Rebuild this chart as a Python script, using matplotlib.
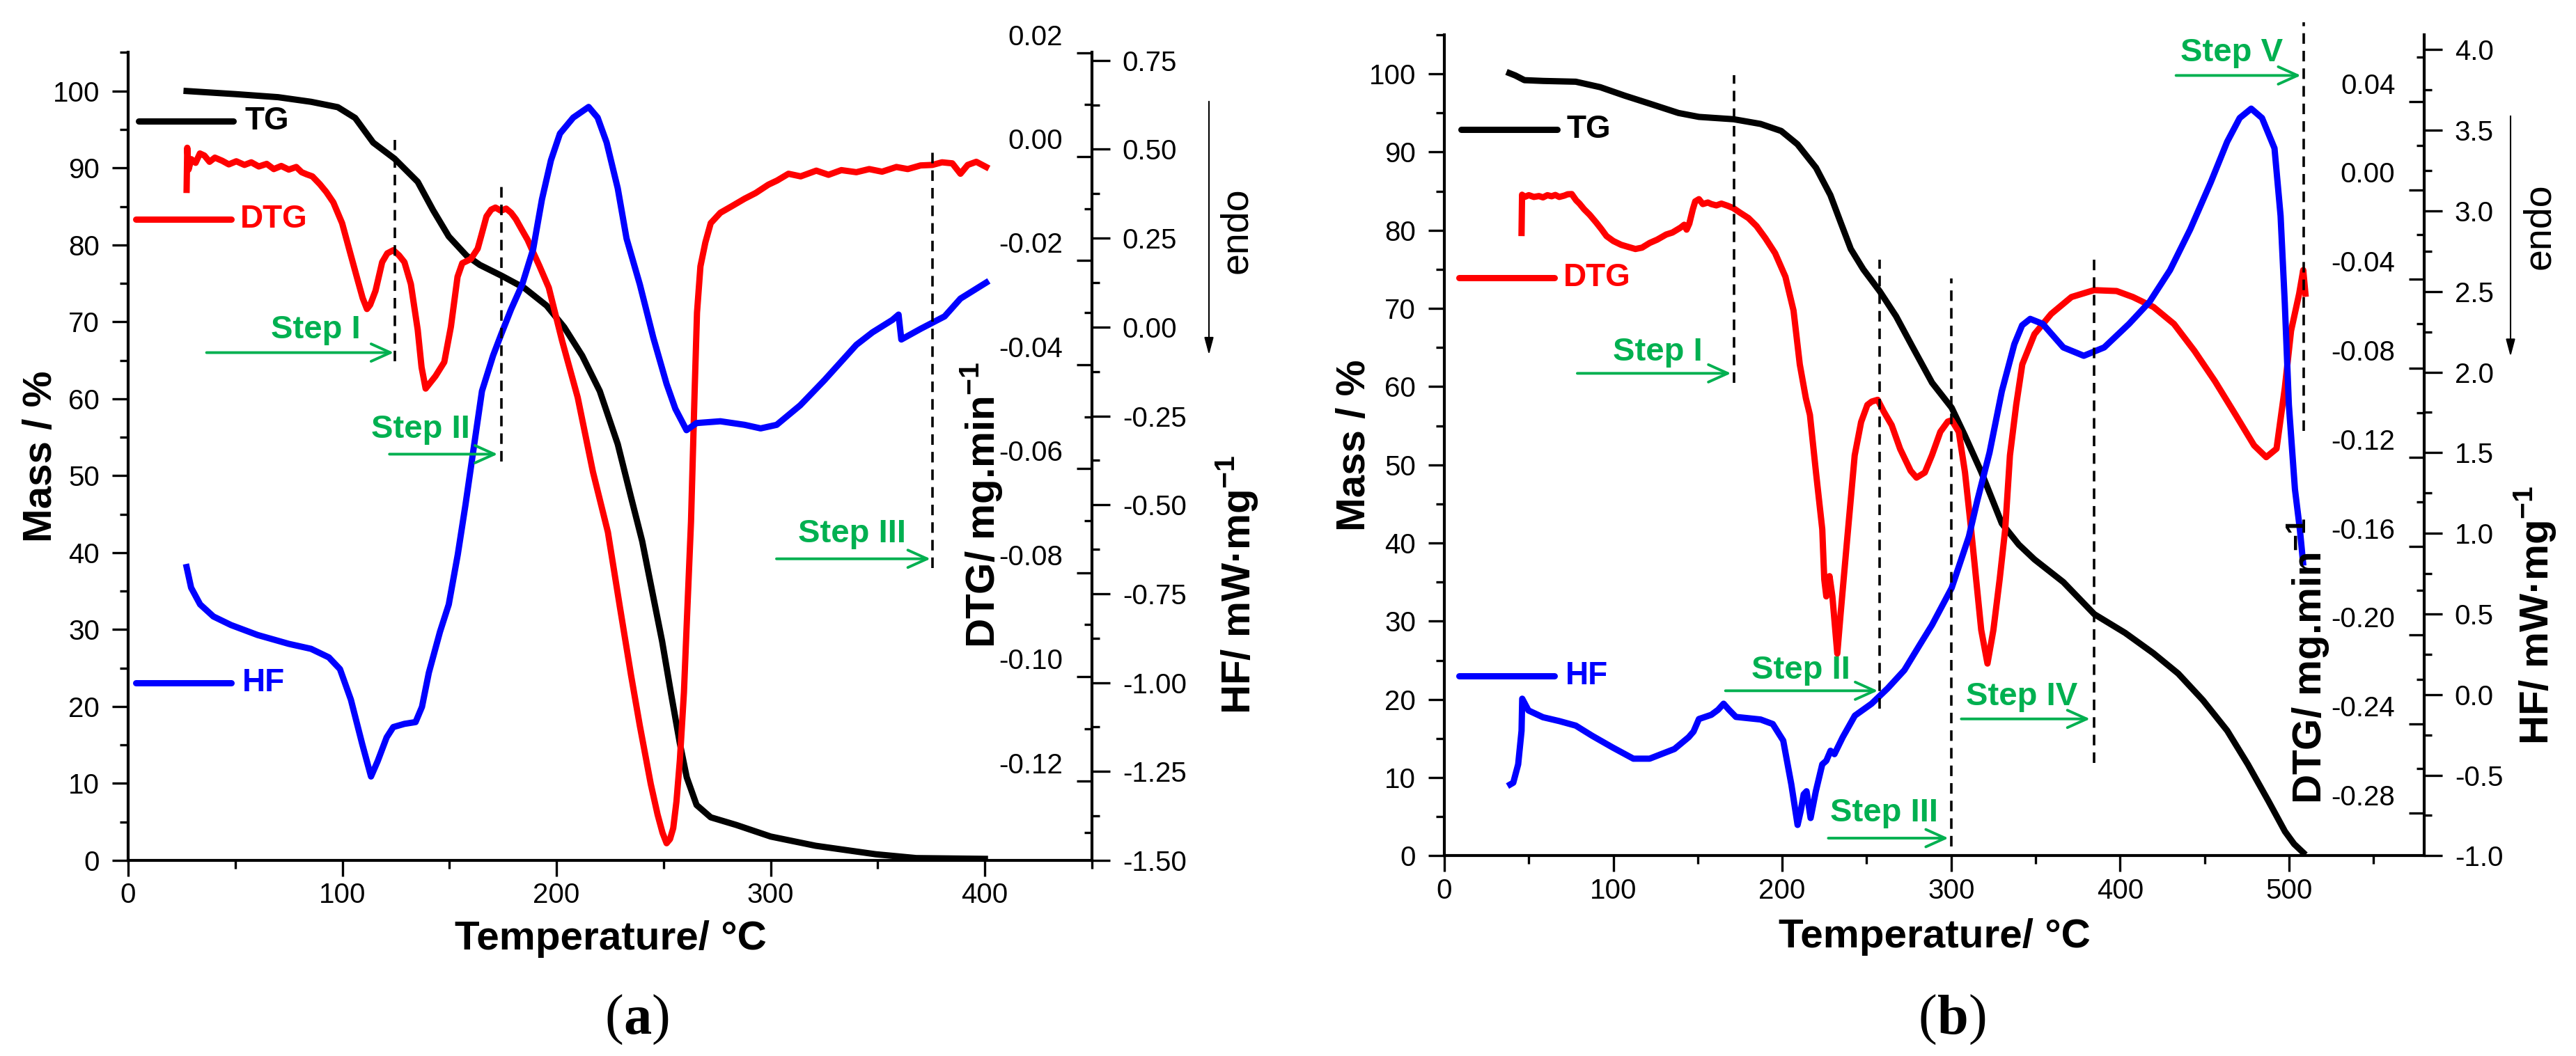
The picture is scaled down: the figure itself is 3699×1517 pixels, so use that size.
import matplotlib
matplotlib.use("Agg")
import matplotlib.pyplot as plt
from matplotlib.ticker import MultipleLocator, FormatStrFormatter
from matplotlib.transforms import ScaledTranslation
from matplotlib.patches import FancyArrowPatch

plt.rcParams['font.family'] = ['Liberation Sans', 'DejaVu Sans']
plt.rcParams['mathtext.fontset'] = 'custom'
plt.rcParams['mathtext.rm'] = 'Liberation Sans'
plt.rcParams['mathtext.bf'] = 'Liberation Sans:bold'
plt.rcParams['axes.unicode_minus'] = False

# ---------------- panel (a) data ----------------
a_tg_t = [27.3, 50, 70, 85.4, 97.9, 106, 114.4, 124.4, 135.2, 142.4, 149.7, 158, 164.2, 174.3,
          185, 195.4, 203.6, 212, 220.2, 228.6, 234.8, 240, 243, 249.3, 253.4, 257.6, 260.8,
          265.4, 272, 284, 300, 321, 349, 368, 400]
a_tg_m = [100.0, 99.6, 99.2, 98.6, 97.9, 96.5, 93.3, 91.2, 88.2, 84.5, 81.1, 78.6, 77.4, 76.0,
          74.4, 72.1, 69.3, 65.6, 61.0, 54.1, 47.2, 41.5, 37.3, 28.5, 21.8, 15.2, 10.8,
          7.2, 5.6, 4.6, 3.1, 1.9, 0.8, 0.3, 0.2]

a_dtg_t = [27.3, 27.6, 28.2, 29.5, 31.5, 33.5, 35.6, 38, 40.5, 43.9, 47, 50.5, 54.3, 57.5, 61,
           64.7, 68, 71.5, 75, 78.5, 81, 83.3, 86, 89.5, 92.5, 95.8, 99.9, 104, 107.2, 109.5,
           111.5, 113, 115.5, 118.6, 121, 123.8, 126.5, 129, 132, 135.2, 137, 138.9, 141, 143.5,
           147.6, 150.7, 153.8, 156, 160, 163.2, 165, 167.3, 169.5, 171.5, 174, 176.5, 178.8,
           181, 184, 186.5, 189, 192, 196.4, 202.6, 209.9, 217, 224, 229.6, 234.8, 238.9, 244,
           247.2, 249.5, 251.4, 253, 254.5, 256, 257.6, 259.5, 260.8, 262.8, 264.5, 265.6,
           267.2, 269.5, 272, 276.5, 282, 287.8, 293, 298.9, 303, 308.3, 314, 321.3, 327, 333,
           340, 346, 352, 358.7, 364, 370, 375.5, 380, 384.8, 388.6, 392, 396, 400.6]
a_dtg_v = [-0.0064, 0.0017, -0.0025, -0.0005, -0.0012, 0.0006, 0.0002, -0.0010, -0.0002, -0.0008,
           -0.0015, -0.0009, -0.0016, -0.0011, -0.0019, -0.0014, -0.0024, -0.0018, -0.0025,
           -0.0020, -0.0030, -0.0034, -0.0038, -0.0053, -0.0068, -0.0088, -0.0128, -0.0190,
           -0.0238, -0.0272, -0.0293, -0.0285, -0.0258, -0.0203, -0.0186, -0.0180, -0.0190,
           -0.0203, -0.0245, -0.0333, -0.0405, -0.0446, -0.0435, -0.0422, -0.0395, -0.0327,
           -0.0231, -0.0205, -0.0197, -0.0177, -0.0150, -0.0115, -0.0102, -0.0098, -0.0104,
           -0.0100, -0.0108, -0.0120, -0.0142, -0.0160, -0.0183, -0.0210, -0.0252, -0.0354,
           -0.0463, -0.0606, -0.0722, -0.0866, -0.0997, -0.1094, -0.1206, -0.1265, -0.1300,
           -0.1320, -0.1312, -0.1291, -0.1240, -0.1160, -0.1030, -0.0899, -0.0702, -0.0450,
           -0.0300, -0.0211, -0.0165, -0.0128, -0.0108, -0.0095, -0.0081, -0.0070, -0.0054,
           -0.0046, -0.0033, -0.0038, -0.0027, -0.0035, -0.0026, -0.0030, -0.0024, -0.0029,
           -0.0020, -0.0024, -0.0017, -0.0016, -0.0011, -0.0013, -0.0033, -0.0016, -0.0010,
           -0.0020]

a_hf_t = [27.3, 29.4, 33.6, 39.8, 48, 60.4, 75, 85.4, 93.7, 98.9, 104, 109.3, 113.4, 116.5, 120.7,
          123.8, 129, 134.2, 137.2, 140.4, 145.6, 149.7, 153.9, 157.5, 161.1, 165.2, 170.4,
          174.2, 178.8, 184, 189.1, 193.2, 197.4, 201.6, 207.8, 215, 219.2, 223.4, 228.6, 232.7,
          238.9, 245.2, 251.4, 255.5, 260.7, 265.4, 276.5, 287.8, 295.3, 302.8, 313.8, 325,
          332.5, 340, 347.5, 356.8, 359.7, 361, 370, 381.2, 388.6, 400.6]
a_hf_v = [-0.675, -0.733, -0.780, -0.814, -0.838, -0.866, -0.891, -0.905, -0.929, -0.962, -1.048,
          -1.173, -1.264, -1.221, -1.154, -1.125, -1.116, -1.111, -1.068, -0.972, -0.857, -0.780,
          -0.640, -0.500, -0.350, -0.180, -0.080, -0.020, 0.050, 0.120, 0.219, 0.359, 0.469,
          0.544, 0.589, 0.619, 0.589, 0.519, 0.390, 0.249, 0.120, -0.030, -0.160, -0.230, -0.290,
          -0.270, -0.265, -0.275, -0.285, -0.275, -0.220, -0.150, -0.100, -0.050, -0.015, 0.020,
          0.035, -0.035, -0.005, 0.030, 0.080, 0.125]

a_steps = ['Step I', 'Step II', 'Step III']
a_step_temp = [124.4, 174.3, 375.5]

# ---------------- panel (b) data ----------------
b_tg_t = [38.5, 42, 47.4, 58.4, 77.8, 92.3, 107, 121.5, 138.6, 150.7, 171.3, 187.2, 199.4, 209,
          220, 228.5, 234.6, 240.6, 248, 257.7, 267.4, 277.1, 288.7, 300.3, 308, 317.8, 330, 340,
          349.3, 366.4, 384.7, 403, 419.7, 434.4, 449, 463.4, 475.6, 487.8, 497.6, 503, 508.4]
b_tg_m = [100.1, 99.8, 99.2, 99.1, 99.0, 98.3, 97.2, 96.2, 95.0, 94.5, 94.2, 93.6, 92.7, 91.0,
          88.0, 84.5, 81.0, 77.6, 75.0, 72.2, 69.0, 65.1, 60.5, 57.3, 53.8, 49.1, 42.5, 39.8,
          37.9, 35.0, 30.9, 28.5, 25.9, 23.3, 19.9, 16.0, 11.7, 7.0, 3.1, 1.5, 0.4]

b_dtg_t = [45.7, 46.0, 47.5, 50, 53, 56, 58.4, 61, 63.5, 65.7, 68, 71, 73, 75.4, 78, 80, 82.7, 86,
           90, 93, 96, 100, 104.6, 109, 113.1, 117, 121.5, 126, 131.3, 135, 139.8, 142, 143.4,
           145, 147.1, 148.5, 150.7, 153, 156, 158, 161, 164, 167.8, 171, 175.1, 180, 184.8, 190,
           195.8, 201.9, 206.7, 210.4, 214, 216.4, 220, 223.7, 224.9, 226.1, 228, 229.7, 232.6,
           234.6, 238.1, 242.9, 246.7, 250.4, 253, 256.5, 260.1, 264.8, 269.8, 276, 279.5, 284.4,
           288.7, 293.6, 298, 300.3, 304.5, 308.2, 311.8, 317.8, 321.5, 325, 328.7, 332, 334.8,
           338.5, 342.1, 349.3, 359.2, 371.2, 384.6, 397.9, 407.6, 419.8, 431.9, 444, 456.2,
           468.4, 479.3, 486.5, 492.6, 497.5, 501.2, 506, 508.4, 509.7]
b_dtg_v = [-0.0192, -0.0020, -0.0030, -0.0022, -0.0030, -0.0026, -0.0032, -0.0022, -0.0027,
           -0.0021, -0.0030, -0.0024, -0.0018, -0.0017, -0.0045, -0.0060, -0.0085, -0.0110,
           -0.0146, -0.0175, -0.0206, -0.0228, -0.0245, -0.0255, -0.0264, -0.0258, -0.0237,
           -0.0222, -0.0199, -0.0190, -0.0168, -0.0155, -0.0177, -0.0150, -0.0085, -0.0050,
           -0.0040, -0.0062, -0.0055, -0.0062, -0.0068, -0.0060, -0.0070, -0.0080, -0.0101,
           -0.0125, -0.0161, -0.0215, -0.0283, -0.0389, -0.0541, -0.0783, -0.0935, -0.1010,
           -0.1269, -0.1524, -0.1750, -0.1826, -0.1735, -0.1826, -0.2083, -0.1901, -0.1599,
           -0.1192, -0.1042, -0.0965, -0.0950, -0.0942, -0.0995, -0.1056, -0.1163, -0.1261,
           -0.1292, -0.1269, -0.1190, -0.1086, -0.1040, -0.1034, -0.1086, -0.1269, -0.1524,
           -0.1977, -0.2128, -0.1977, -0.1750, -0.1524, -0.1192, -0.0965, -0.0783, -0.0647,
           -0.0556, -0.0480, -0.0449, -0.0453, -0.0480, -0.0525, -0.0601, -0.0722, -0.0859,
           -0.1010, -0.1147, -0.1200, -0.1162, -0.0889, -0.0632, -0.0465, -0.0359, -0.0465]

b_hf_t = [39, 40.8, 43.7, 45.7, 46.1, 49.8, 58.4, 68.1, 77.8, 87.5, 99.7, 111.9, 121.5, 136.2,
          144.6, 147.5, 150.7, 158, 162, 165.3, 168.5, 172.6, 187.2, 194.4, 200.6, 205.4, 209.1,
          211, 212.7, 214.4, 216.8, 219.9, 223.7, 226.1, 228.6, 230.9, 235.8, 243, 252.9, 262.4,
          272.3, 282, 288.7, 300.3, 310.5, 315.4, 322.7, 330, 337.4, 342, 346.8, 354.2, 366.4,
          378.5, 390.6, 405.3, 417.4, 429.6, 441.5, 453.7, 463.4, 470.8, 477.6, 484, 491.4, 495,
          497.5, 499.9, 503.5, 506.4, 508.3]
b_hf_v = [-0.558, -0.547, -0.433, -0.225, -0.026, -0.099, -0.141, -0.165, -0.193, -0.256, -0.329,
          -0.398, -0.398, -0.338, -0.265, -0.230, -0.152, -0.126, -0.095, -0.057, -0.095, -0.139,
          -0.155, -0.183, -0.286, -0.558, -0.809, -0.720, -0.619, -0.600, -0.766, -0.600, -0.433,
          -0.411, -0.349, -0.370, -0.265, -0.131, -0.057, 0.038, 0.151, 0.318, 0.432, 0.661,
          0.980, 1.200, 1.500, 1.881, 2.173, 2.290, 2.330, 2.299, 2.153, 2.101, 2.153, 2.299,
          2.435, 2.633, 2.885, 3.178, 3.429, 3.576, 3.634, 3.576, 3.388, 2.969, 2.425, 1.797,
          1.273, 1.026, 0.819]

b_steps = ['Step I', 'Step II', 'Step III', 'Step IV', 'Step V']
b_step_temp = [171.3, 257.8, 300.3, 384.7, 508.8]

# tick labels of the twin axes
a_dtg_ticks = [0.02, 0.00, -0.02, -0.04, -0.06, -0.08, -0.10, -0.12]
a_hf_ticks = [0.75, 0.50, 0.25, 0.00, -0.25, -0.50, -0.75, -1.00, -1.25, -1.50]
b_dtg_ticks = [0.04, 0.00, -0.04, -0.08, -0.12, -0.16, -0.20, -0.24, -0.28]
b_hf_ticks = [4.0, 3.5, 3.0, 2.5, 2.0, 1.5, 1.0, 0.5, 0.0, -0.5, -1.0]

# ---------------- layout (pixels of the 3699 x 1517 canvas) ----------------
W, H, DPI = 3699, 1517, 100
GREEN = '#00B050'
RED = '#FF0000'
BLUE = '#0000FF'
LW = 6.5
TICK_FS = 29

fig = plt.figure(figsize=(W / DPI, H / DPI), dpi=DPI)


def fx(x):
    return x / W


def fy(y):
    return 1 - y / H


def panel(box, xmax, dtg_lim, dtg_ticks, dtg_step, hf_lim, hf_ticks, hf_step, hf_fmt):
    left, top, right, bottom = box
    ax = fig.add_axes([fx(left), fy(bottom), (right - left) / W, (bottom - top) / H])
    ax.set_xlim(0, xmax)
    ax.set_ylim(0, 105)
    ax.spines['top'].set_visible(False)
    for s in ('left', 'bottom', 'right'):
        ax.spines[s].set_linewidth(3)
    ax.xaxis.set_major_locator(MultipleLocator(100))
    ax.xaxis.set_minor_locator(MultipleLocator(50))
    ax.yaxis.set_major_locator(MultipleLocator(10))
    ax.yaxis.set_minor_locator(MultipleLocator(5))
    ax.tick_params(which='major', direction='out', length=16.5, width=2.4, labelsize=TICK_FS)
    ax.tick_params(which='minor', direction='out', length=8.5, width=2.4)
    ax.tick_params(axis='x', which='major', pad=6)
    ax.tick_params(axis='y', which='major', pad=13)
    ax.tick_params(axis='y', which='both', right=False)

    # DTG scale: ticks inward, labels inside the frame
    ax_d = ax.twinx()
    ax_d.set_ylim(*dtg_lim)
    for s in ax_d.spines.values():
        s.set_visible(False)
    ax_d.set_yticks(dtg_ticks)
    ax_d.yaxis.set_minor_locator(MultipleLocator(dtg_step))
    ax_d.yaxis.set_major_formatter(FormatStrFormatter('%.2f'))
    ax_d.tick_params(axis='y', which='major', direction='in', length=16, width=2.4,
                     labelsize=TICK_FS, pad=-30)
    ax_d.tick_params(axis='y', which='minor', direction='in', length=8, width=2.4)

    # HF scale: ticks outward, labels outside
    ax_h = ax.twinx()
    ax_h.set_ylim(*hf_lim)
    for s in ax_h.spines.values():
        s.set_visible(False)
    ax_h.set_yticks(hf_ticks)
    ax_h.yaxis.set_minor_locator(MultipleLocator(hf_step))
    ax_h.yaxis.set_major_formatter(FormatStrFormatter(hf_fmt))
    ax_h.tick_params(axis='y', which='major', direction='out', length=18.5, width=2.4,
                     labelsize=TICK_FS, pad=13)
    ax_h.tick_params(axis='y', which='minor', direction='out', length=8, width=2.4)

    shift = ScaledTranslation(0, 26 / DPI, fig.dpi_scale_trans)
    for t in ax_d.yaxis.get_major_ticks():
        t.label2.set_horizontalalignment('right')
        t.label2.set_transform(t.label2.get_transform() + shift)
    return ax, ax_d, ax_h


def sample(ax_top, ax, x0, x1, y, label, color, tx):
    ax_top.plot([x0, x1], [y, y], color=color, lw=LW, solid_capstyle='round',
                transform=ax.transData)
    ax_top.text(tx, y, label, color=color, fontsize=33, fontweight='bold',
                ha='left', va='center', transform=ax.transData)


def step(ax_top, ax, xline, lo, hi, label, txy, ax0, ax1, ay):
    ax_top.plot([xline, xline], [lo, hi], color='k', lw=2.6, dashes=(4.2, 2.8),
                transform=ax.transData, clip_on=False)
    ax_top.text(txy[0], txy[1], label, color=GREEN, fontsize=34, fontweight='bold',
                ha='center', va='center', transform=ax.transData)
    ax_top.annotate('', xy=(ax1, ay), xytext=(ax0, ay), xycoords=ax.transData,
                    textcoords=ax.transData,
                    arrowprops=dict(arrowstyle='->,head_length=1.0,head_width=0.45',
                                    color=GREEN, lw=2.8, shrinkA=0, shrinkB=0,
                                    mutation_scale=20))


def endo(x, y0, y1, tx, ty):
    fig.add_artist(FancyArrowPatch((fx(x), fy(y0)), (fx(x), fy(y1)),
                                   transform=fig.transFigure,
                                   arrowstyle='-|>,head_length=0.75,head_width=0.2',
                                   mutation_scale=20, color='k', lw=1.5))
    fig.text(fx(tx), fy(ty), 'endo', fontsize=40, rotation=90, ha='center', va='center')


def tag(cx, baseline, letter, wletter):
    fig.text(fx(cx), fy(baseline), letter, family='Liberation Serif', fontsize=58,
             fontweight='bold', ha='center', va='baseline')
    fig.text(fx(cx - wletter / 2), fy(baseline), '(', family='Liberation Serif',
             fontsize=58, ha='right', va='baseline')
    fig.text(fx(cx + wletter / 2), fy(baseline), ')', family='Liberation Serif',
             fontsize=58, ha='left', va='baseline')


def titles(mass_xy, temp_xy, dtg_xy, hf_xy):
    fig.text(fx(mass_xy[0]), fy(mass_xy[1]), 'Mass / %', fontsize=42, fontweight='bold',
             rotation=90, ha='center', va='center')
    fig.text(fx(temp_xy[0]), fy(temp_xy[1]), 'Temperature/ °C', fontsize=42,
             fontweight='bold', ha='center', va='baseline')
    fig.text(fx(dtg_xy[0]), fy(dtg_xy[1]), r'DTG/ mg.min$^{\mathbf{-1}}$', fontsize=42,
             fontweight='bold', rotation=90, ha='center', va='center')
    fig.text(fx(hf_xy[0]), fy(hf_xy[1]), r'HF/ mW·mg$^{\mathbf{-1}}$', fontsize=42,
             fontweight='bold', rotation=90, ha='center', va='center')


# ---------------- panel (a) ----------------
ax, ax_d, ax_h = panel((184, 75.5, 1568, 1236), 450, (-0.1353, 0.02), a_dtg_ticks, 0.01,
                       (-1.5, 0.772), a_hf_ticks, 0.125, '%.2f')
ax.plot(a_tg_t, a_tg_m, color='k', lw=LW)
ax_d.plot(a_dtg_t, a_dtg_v, color=RED, lw=LW)
ax_h.plot(a_hf_t, a_hf_v, color=BLUE, lw=LW)

sample(ax_h, ax, 4.9, 49.1, 96.1, 'TG', 'k', 54.3)
sample(ax_h, ax, 3.6, 48.1, 83.3, 'DTG', RED, 52.4)
sample(ax_h, ax, 3.6, 48.1, 23.1, 'HF', BLUE, 53.3)

a_lo = [64.9, 51.8, 38.0]
a_hi = [93.6, 87.8, 92.4]
a_txy = [(87.5, 68.9), (136.5, 56.0), (338, 42.4)]
a_ax0 = [36.6, 122.0, 302.7]
a_ax1 = [124.0, 172.5, 374.6]
a_ay = [66.0, 52.8, 39.2]
for i, lab in enumerate(a_steps):
    step(ax_h, ax, a_step_temp[i], a_lo[i], a_hi[i], lab, a_txy[i], a_ax0[i], a_ax1[i], a_ay[i])

titles((59.5, 656), (877, 1364), (1410, 725), (1777, 840))
endo(1736, 143, 512.6, 1776, 331)
tag(915, 1485, 'a', 40)

# ---------------- panel (b) ----------------
bx, bx_d, bx_h = panel((2074, 50, 3481, 1229.3), 580, (-0.2992, 0.0699), b_dtg_ticks, 0.02,
                       (-1.0, 4.092), b_hf_ticks, 0.25, '%.1f')
bx.plot(b_tg_t, b_tg_m, color='k', lw=LW)
bx_d.plot(b_dtg_t, b_dtg_v, color=RED, lw=LW)
bx_h.plot(b_hf_t, b_hf_v, color=BLUE, lw=LW)

sample(bx_h, bx, 9.9, 66.7, 92.9, 'TG', 'k', 72.5)
sample(bx_h, bx, 8.6, 65.1, 73.9, 'DTG', RED, 70.4)
sample(bx_h, bx, 8.6, 65.1, 23.0, 'HF', BLUE, 71.7)

b_lo = [60.5, 18.8, 1.2, 11.9, 54.3]
b_hi = [99.8, 76.2, 73.8, 76.8, 106.6]
b_txy = [(126.4, 64.4), (210.9, 23.7), (260.3, 5.5), (341.8, 20.3), (466.2, 102.7)]
b_ax0 = [78.7, 166.4, 227.3, 306.0, 433.1]
b_ax1 = [169.7, 256.6, 298.4, 382.2, 507.0]
b_ay = [61.7, 21.1, 2.25, 17.5, 99.8]
for i, lab in enumerate(b_steps):
    step(bx_h, bx, b_step_temp[i], b_lo[i], b_hi[i], lab, b_txy[i], b_ax0[i], b_ax1[i], b_ay[i])

titles((1945, 640), (2777.5, 1361), (3315, 949), (3641, 884))
endo(3605, 164, 515, 3647, 325)
tag(2804, 1485, 'b', 45)

fig.savefig('out.png', dpi=DPI, facecolor='white')
